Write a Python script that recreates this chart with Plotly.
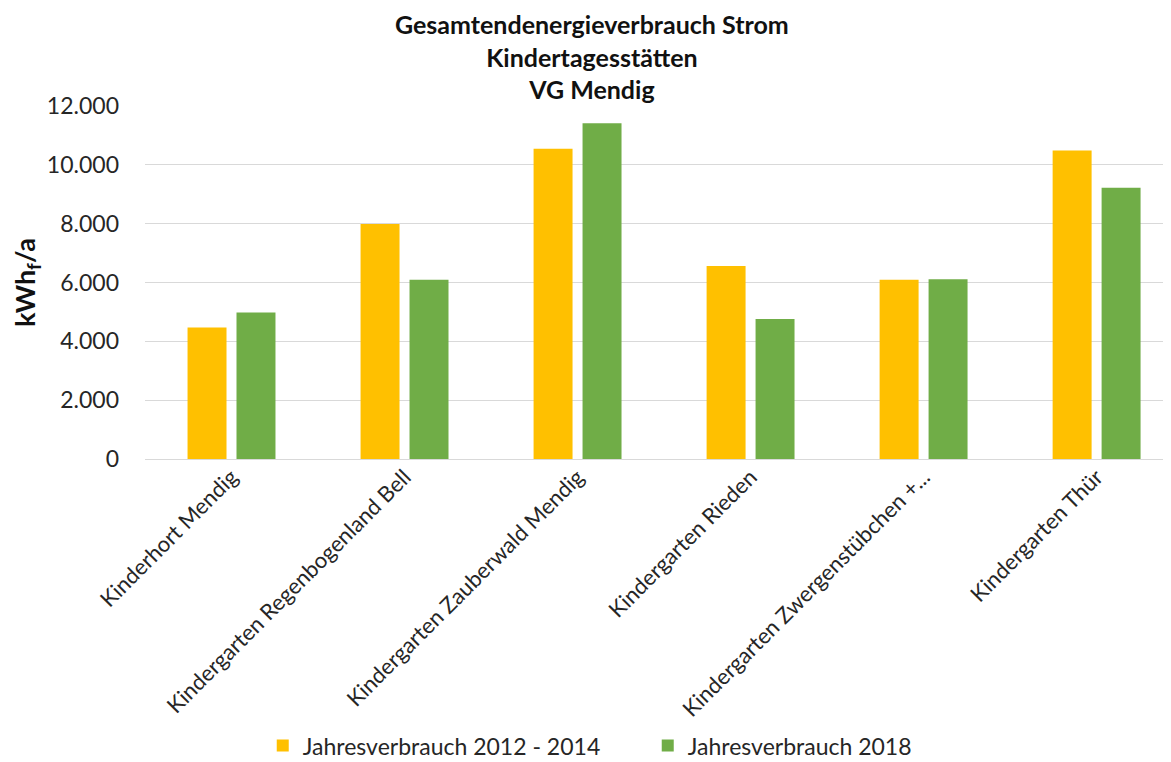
import plotly.graph_objects as go

categories = [
    "Kinderhort Mendig",
    "Kindergarten Regenbogenland Bell",
    "Kindergarten Zauberwald Mendig",
    "Kindergarten Rieden",
    "Kindergarten Zwergenstübchen +...",
    "Kindergarten Thür",
]
verbrauch_2012_2014 = [4470, 7990, 10550, 6560, 6090, 10490]
verbrauch_2018 = [4980, 6090, 11410, 4760, 6110, 9220]
series_names = ["Jahresverbrauch 2012 - 2014", "Jahresverbrauch 2018"]
y_ticks = [0, 2000, 4000, 6000, 8000, 10000, 12000]
title_lines = ["Gesamtendenergieverbrauch Strom", "Kindertagesstätten", "VG Mendig"]

FONT = "Lato"

fig = go.Figure()
fig.add_trace(go.Bar(x=categories, y=verbrauch_2012_2014, name=series_names[0],
                     marker=dict(color="#FFC000", line=dict(width=0))))
fig.add_trace(go.Bar(x=categories, y=verbrauch_2018, name=series_names[1],
                     marker=dict(color="#70AD47", line=dict(width=0))))

# page body has an 8px default margin, so the figure is 8px smaller in each direction
fig.update_layout(
    width=1163, height=754,
    paper_bgcolor="white", plot_bgcolor="white",
    separators=",.",
    barmode="group", bargap=0.434, bargroupgap=0.204,
    margin=dict(l=137, r=0, t=98, b=303, autoexpand=False),
    font=dict(family=FONT, color="#262626"),
    legend=dict(orientation="h", x=0.49, xanchor="center", y=-0.751, yanchor="top",
                font=dict(family=FONT, size=23, color="#262626"),
                traceorder="normal", entrywidth=340, entrywidthmode="pixels"),
    showlegend=True,
)
fig.add_annotation(
    text="<b>" + "<br>".join(title_lines) + "</b>",
    xref="paper", yref="paper", x=(584 - 137) / 1026, y=1.28,
    xanchor="center", yanchor="top", showarrow=False, align="center",
    font=dict(family=FONT, size=25, color="#111111"),
)
fig.update_xaxes(
    range=[-0.5, 5.43], tickangle=-45, tickfont=dict(family=FONT, size=22, color="#262626"),
    showgrid=False, showline=False, ticks="", automargin=False,
)
fig.update_yaxes(
    range=[0, 12000], tickvals=y_ticks, tickformat=",d",
    tickfont=dict(family=FONT, size=23, color="#262626"),
    showgrid=True, gridcolor="#D9D9D9", gridwidth=1.3,
    zeroline=True, zerolinecolor="#D9D9D9", zerolinewidth=1.3,
    ticklabelstandoff=25, automargin=False,
    title=dict(text="<b>kWh<sub>f</sub>/a</b>", font=dict(family=FONT, size=27, color="#111111"), standoff=14),
)

fig.write_html("out.html")
